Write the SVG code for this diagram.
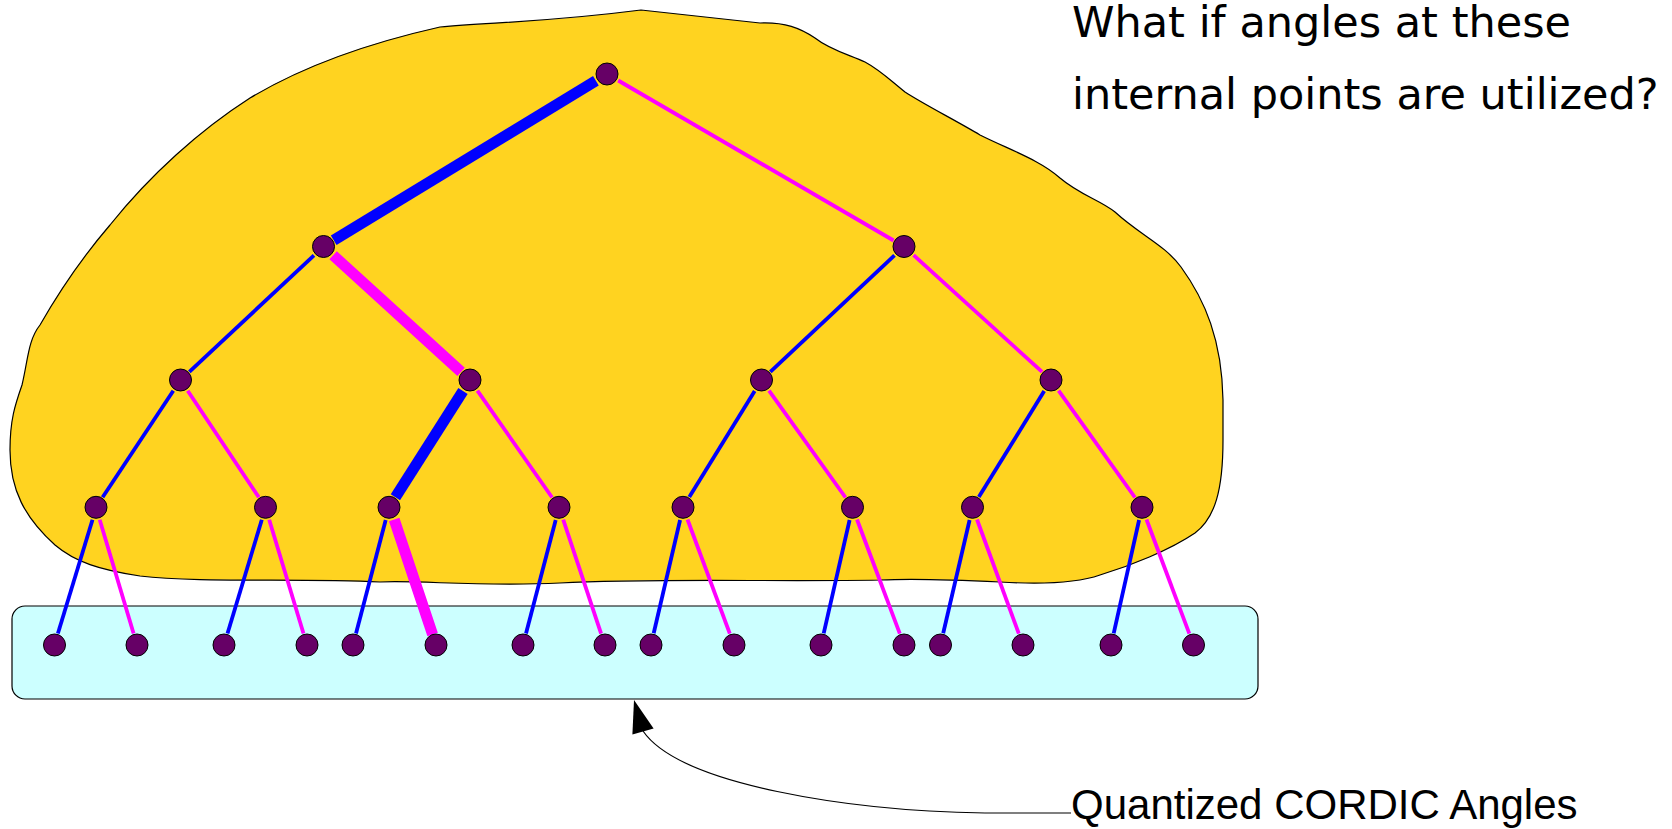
<svg xmlns="http://www.w3.org/2000/svg" width="1672" height="829" viewBox="0 0 1672 829">
<style>
.blob{fill:#ffd320;stroke:#000;stroke-width:1.2}
.box{fill:#ccffff;stroke:#000;stroke-width:1.2}
.b{stroke:#0000ff;stroke-width:3.8;fill:none}
.m{stroke:#ff00ff;stroke-width:3.8;fill:none}
.bt{stroke:#0000ff;stroke-width:11;fill:none}
.mt{stroke:#ff00ff;stroke-width:11;fill:none}
.n{fill:#660066;stroke:#000;stroke-width:1}
.t1{font-family:"DejaVu Sans",sans-serif;font-size:43px;fill:#000}
.t2{font-family:"Liberation Sans",Arial,sans-serif;font-size:42px;fill:#000}
</style>
<rect width="1672" height="829" fill="#fff"/>
<g id="internal-region">
<path class="blob" d="M 641 10 L 760 23 C 785 22, 800 28, 815 38 C 830 50, 850 55, 865 62 C 880 70, 890 80, 905 92 C 925 105, 955 120, 980 135 C 1010 150, 1040 160, 1060 178 C 1080 195, 1100 200, 1115 212 C 1140 235, 1165 245, 1181 267 C 1205 300, 1222 340, 1223 400 L 1223 440 C 1223 490, 1215 518, 1195 533 C 1170 550, 1130 566, 1100 575 C 1080 582, 1050 585, 1000 582 C 960 580, 920 578, 880 580 C 780 582, 650 578, 560 583 C 480 587, 420 580, 380 582 C 300 578, 200 583, 140 576 C 100 570, 75 562, 55 545 C 25 518, 10 490, 10 450 C 10 420, 15 405, 22 385 C 28 360, 28 340, 40 325 C 60 290, 80 260, 110 225 C 150 175, 200 130, 250 98 C 300 68, 360 45, 440 27 C 490 22, 540 23, 641 10 Z"/>
</g>
<g id="quantized-box">
<rect class="box" x="12" y="606" width="1246" height="93" rx="13" ry="13"/>
</g>
<g id="connectors">
<line class="bt" x1="595.9" y1="80.8" x2="333.7" y2="240.3"/>
<line class="m" x1="618.2" y1="80.5" x2="893.6" y2="240.5"/>
<line class="b" x1="314" y1="255.4" x2="189.3" y2="371.8"/>
<line class="mt" x1="333.1" y1="255.3" x2="461.1" y2="371.9"/>
<line class="b" x1="894.5" y1="255.4" x2="770.3" y2="371.8"/>
<line class="m" x1="913.6" y1="255.2" x2="1042.1" y2="371.9"/>
<line class="b" x1="173.3" y1="390.8" x2="102.6" y2="497.3"/>
<line class="m" x1="187.7" y1="390.8" x2="258.8" y2="497.3"/>
<line class="bt" x1="463" y1="391" x2="395.4" y2="497.2"/>
<line class="m" x1="477.4" y1="390.7" x2="552.1" y2="497.5"/>
<line class="b" x1="754.7" y1="391.1" x2="689.3" y2="497.1"/>
<line class="m" x1="769" y1="390.6" x2="845.5" y2="497.5"/>
<line class="b" x1="1044.2" y1="391.1" x2="978.8" y2="497.1"/>
<line class="m" x1="1058.6" y1="390.6" x2="1135" y2="497.5"/>
<line class="b" x1="92.5" y1="519.8" x2="57.9" y2="633.5"/>
<line class="m" x1="99.7" y1="519.8" x2="133.6" y2="633.5"/>
<line class="b" x1="261.8" y1="519.8" x2="227.5" y2="633.5"/>
<line class="m" x1="269.2" y1="519.8" x2="303.5" y2="633.5"/>
<line class="b" x1="385.7" y1="519.9" x2="356" y2="633.4"/>
<line class="mt" x1="394.2" y1="519.6" x2="432.6" y2="634.6"/>
<line class="b" x1="555.7" y1="519.9" x2="526" y2="633.4"/>
<line class="m" x1="563.2" y1="519.6" x2="601.1" y2="633.6"/>
<line class="b" x1="680.1" y1="520" x2="653.7" y2="633.3"/>
<line class="m" x1="687.5" y1="519.5" x2="729.8" y2="633.7"/>
<line class="b" x1="849.6" y1="520" x2="823.7" y2="633.3"/>
<line class="m" x1="857" y1="519.5" x2="899.8" y2="633.7"/>
<line class="b" x1="969.6" y1="520" x2="943.2" y2="633.3"/>
<line class="m" x1="977" y1="519.5" x2="1018.8" y2="633.7"/>
<line class="b" x1="1139.1" y1="520" x2="1113.7" y2="633.3"/>
<line class="m" x1="1146.5" y1="519.5" x2="1189.3" y2="633.7"/>
</g>
<g id="nodes">
<g id="n0"><circle class="n" cx="607" cy="74" r="11"/></g>
<g id="n1a"><circle class="n" cx="323.5" cy="246.5" r="11"/></g>
<g id="n1b"><circle class="n" cx="904" cy="246.5" r="11"/></g>
<g id="n2a"><circle class="n" cx="180.5" cy="380" r="11"/></g>
<g id="n2b"><circle class="n" cx="470" cy="380" r="11"/></g>
<g id="n2c"><circle class="n" cx="761.5" cy="380" r="11"/></g>
<g id="n2d"><circle class="n" cx="1051" cy="380" r="11"/></g>
<g id="n3a"><circle class="n" cx="96" cy="507.3" r="11"/></g>
<g id="n3b"><circle class="n" cx="265.5" cy="507.3" r="11"/></g>
<g id="n3c"><circle class="n" cx="389" cy="507.3" r="11"/></g>
<g id="n3d"><circle class="n" cx="559" cy="507.3" r="11"/></g>
<g id="n3e"><circle class="n" cx="683" cy="507.3" r="11"/></g>
<g id="n3f"><circle class="n" cx="852.5" cy="507.3" r="11"/></g>
<g id="n3g"><circle class="n" cx="972.5" cy="507.3" r="11"/></g>
<g id="n3h"><circle class="n" cx="1142" cy="507.3" r="11"/></g>
<g id="leaf1"><circle class="n" cx="54.5" cy="645" r="11"/></g>
<g id="leaf2"><circle class="n" cx="137" cy="645" r="11"/></g>
<g id="leaf3"><circle class="n" cx="224" cy="645" r="11"/></g>
<g id="leaf4"><circle class="n" cx="307" cy="645" r="11"/></g>
<g id="leaf5"><circle class="n" cx="353" cy="645" r="11"/></g>
<g id="leaf6"><circle class="n" cx="436" cy="645" r="11"/></g>
<g id="leaf7"><circle class="n" cx="523" cy="645" r="11"/></g>
<g id="leaf8"><circle class="n" cx="605" cy="645" r="11"/></g>
<g id="leaf9"><circle class="n" cx="651" cy="645" r="11"/></g>
<g id="leaf10"><circle class="n" cx="734" cy="645" r="11"/></g>
<g id="leaf11"><circle class="n" cx="821" cy="645" r="11"/></g>
<g id="leaf12"><circle class="n" cx="904" cy="645" r="11"/></g>
<g id="leaf13"><circle class="n" cx="940.5" cy="645" r="11"/></g>
<g id="leaf14"><circle class="n" cx="1023" cy="645" r="11"/></g>
<g id="leaf15"><circle class="n" cx="1111" cy="645" r="11"/></g>
<g id="leaf16"><circle class="n" cx="1193.5" cy="645" r="11"/></g>
</g>
<g id="question">
<text class="t1" x="1072" y="37">What if angles at these</text>
<text class="t1" x="1072" y="109">internal points are utilized?</text>
</g>
<g id="label-arrow">
<path d="M 1071 813 L 985 813 C 850 811, 680 785, 643 731" fill="none" stroke="#000" stroke-width="1.2"/>
<polygon points="634,700 632.4,734.5 653.6,728.5" fill="#000"/>
<text class="t2" x="1071" y="819">Quantized CORDIC Angles</text>
</g>
</svg>
